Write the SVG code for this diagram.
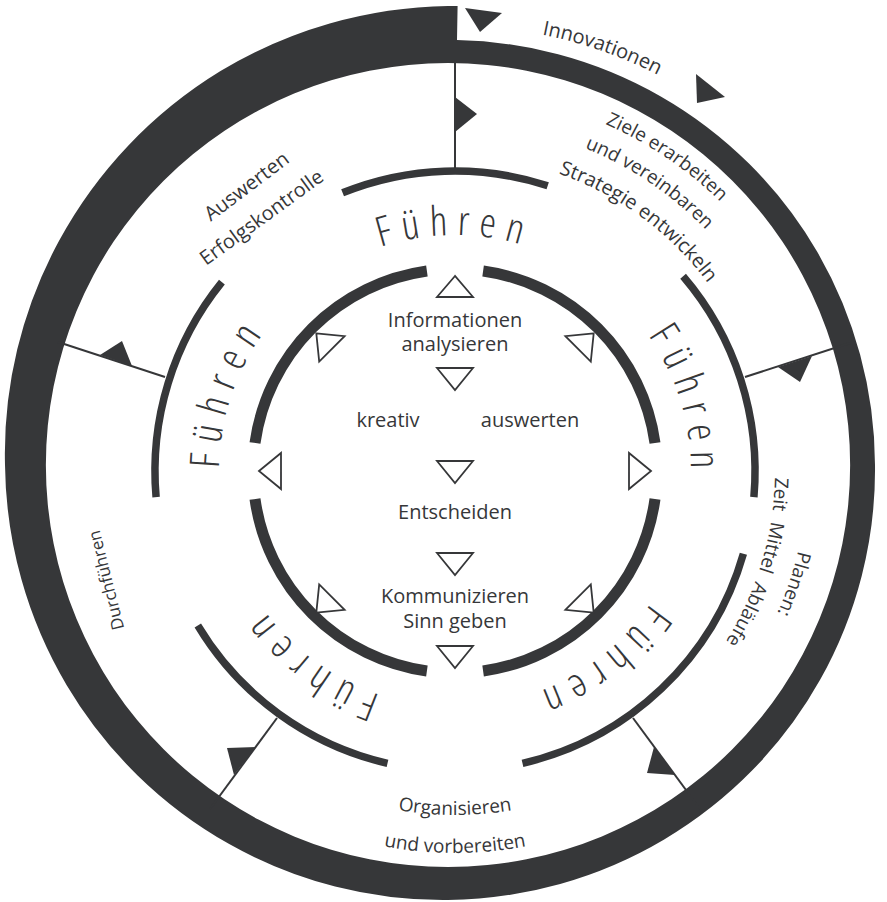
<svg xmlns="http://www.w3.org/2000/svg" width="887" height="902" viewBox="0 0 887 902">
<style>
.ink{fill:#363739}
.ln{stroke:#363739;stroke-width:2;fill:none}
.mid{stroke:#363739;stroke-width:7.5;fill:none}
.inr{stroke:#363739;stroke-width:11;fill:none}
.tri{stroke:#363739;stroke-width:1.8;fill:#fff;stroke-linejoin:miter}
text{font-family:"Open Sans","Liberation Sans",sans-serif;fill:#363739}
.c{font-size:20px;text-anchor:middle;font-stretch:92%}
.lab{font-size:19px;font-stretch:92%}
.fu{font-size:41px;letter-spacing:9.5px;font-stretch:75%;font-weight:300}
</style>
<defs>
<path id="pFu" d="M455,707 A236,236 0 1 1 455,235 A236,236 0 1 1 455,707"/>
<path id="pInno" d="M297.0,55.0 A445,445 0 0 1 837.3,243.2"/>
<path id="pZiele" d="M415.5,95.1 A378,378 0 0 1 818.4,366.8"/>
<path id="pUnd" d="M418.6,124.9 A348,348 0 0 1 789.5,375.1"/>
<path id="pStrat" d="M434.7,156.7 A315,315 0 0 1 761.0,396.4"/>
<path id="pZeit" d="M748.9,344.4 A320,320 0 0 1 630.7,738.5"/>
<path id="pPlan" d="M782.4,340.7 A352,352 0 0 1 638.3,771.6"/>
<path id="pOrg" d="M233.9,734.5 A344,344 0 0 0 676.1,734.5"/>
<path id="pVor" d="M209.5,763.6 A382,382 0 0 0 700.5,763.6"/>
</defs>

<g id="outer-ring">
<path class="ink" fill-rule="evenodd" d="M457,40.1 A425.2,425.2 0 0 1 558.1,54.2 A425.5,425.5 0 0 1 660.8,96.4 A425.8,425.8 0 0 1 749.2,163.8 A426.2,426.2 0 0 1 817.2,251.8 A426.5,426.5 0 0 1 860.1,354.6 A426.8,426.8 0 0 1 875,465 A427.7,427.7 0 0 1 861.7,575.9 A429,429 0 0 1 820.1,679.8 A430.3,430.3 0 0 1 752.8,769.8 A431.7,431.7 0 0 1 664.2,839.4 A433,433 0 0 1 560.2,883.9 A434.3,434.3 0 0 1 448,900 A435.7,435.7 0 0 1 335.1,886.5 A437,437 0 0 1 229.2,844.0 A438.3,438.3 0 0 1 137.6,775.4 A439.7,439.7 0 0 1 66.7,685.2 A441,441 0 0 1 21.4,579.3 A442.3,442.3 0 0 1 5,465 A444.5,444.5 0 0 1 17.2,349.6 A447.5,447.5 0 0 1 59.2,240.5 A450.5,450.5 0 0 1 128.4,145.4 A453.5,453.5 0 0 1 220.5,71.0 A456,456 0 0 1 329.7,23.5 A458,458 0 0 1 448,6.0 A459,459 0 0 1 457.6,6.1 Z M448,63 A402,402 0 1 0 448,867 A402,402 0 1 0 448,63 Z"/>
<polygon class="ink" points="465,8 502,13 480,32"/>
<polygon class="ink" points="696,74 725,97 697,103"/>
</g>

<g id="connectors">
<line class="ln" x1="455" y1="60" x2="455" y2="169"/>
<line class="ln" x1="745" y1="377" x2="850" y2="343"/>
<line class="ln" x1="58" y1="342" x2="165" y2="377"/>
<line class="ln" x1="277" y1="718" x2="210" y2="809"/>
<line class="ln" x1="633" y1="718" x2="700" y2="809"/>
<polygon class="ink" points="455,97 455,132 477,114"/>
<polygon class="ink" points="778,367 812,356 800,382"/>
<polygon class="ink" points="100,355 132,366 122,341"/>
<polygon class="ink" points="227,748 256,747 234,775"/>
<polygon class="ink" points="654,747 675,775 647,773"/>
</g>

<g id="middle-ring">
<path class="mid" d="M342.6,192.8 A300,300 0 0 1 547.7,185.7"/>
<path class="mid" d="M683.1,276.2 A300,300 0 0 1 753.9,497.2"/>
<path class="mid" d="M743.4,553.7 A300,300 0 0 1 522.5,763.3"/>
<path class="mid" d="M387.5,763.3 A300,300 0 0 1 197.8,625.5"/>
<path class="mid" d="M156.1,497.2 A300,300 0 0 1 221.9,282.2"/>
</g>

<g id="fuehren-labels">
<text class="fu"><textPath href="#pFu" startOffset="741" text-anchor="middle">Führen</textPath></text>
<text class="fu"><textPath href="#pFu" startOffset="1043" text-anchor="middle">Führen</textPath></text>
<text class="fu"><textPath href="#pFu" startOffset="1328" text-anchor="middle">Führen</textPath></text>
<text class="fu"><textPath href="#pFu" startOffset="152" text-anchor="middle">Führen</textPath></text>
<text class="fu"><textPath href="#pFu" startOffset="449" text-anchor="middle">Führen</textPath></text>
</g>

<g id="inner-ring">
<path class="inr" d="M483.1,271 A202,202 0 0 1 655,442.9"/>
<path class="inr" d="M655,499.1 A202,202 0 0 1 483.1,671"/>
<path class="inr" d="M426.9,671 A202,202 0 0 1 255,499.1"/>
<path class="inr" d="M255,442.9 A202,202 0 0 1 426.9,271"/>
<polygon class="tri" points="455,276 437,297 473,297"/>
<polygon class="tri" points="437,368 473,368 455,390"/>
<polygon class="tri" points="437,461 473,461 455,483"/>
<polygon class="tri" points="437,553 473,553 455,575"/>
<polygon class="tri" points="437,646 473,646 455,668"/>
<polygon class="tri" points="259,471 281,453 281,489"/>
<polygon class="tri" points="651,471 629,453 629,489"/>
<polygon class="tri" points="316.3,333.3 344.6,336.2 319.2,361.6"/>
<polygon class="tri" points="593.7,333.3 565.4,336.2 590.8,361.6"/>
<polygon class="tri" points="316.3,612.7 344.6,609.8 319.2,584.4"/>
<polygon class="tri" points="593.7,612.7 565.4,609.8 590.8,584.4"/>
</g>

<g id="center-texts">
<text class="c" x="455" y="327">Informationen</text>
<text class="c" x="455" y="351">analysieren</text>
<text class="c" x="388" y="427">kreativ</text>
<text class="c" x="530" y="427">auswerten</text>
<text class="c" x="455" y="519">Entscheiden</text>
<text class="c" x="455" y="603">Kommunizieren</text>
<text class="c" x="455" y="628">Sinn geben</text>
</g>

<g id="outer-labels">
<text class="lab" style="font-size:20px"><textPath href="#pInno" startOffset="50%" text-anchor="middle">Innovationen</textPath></text>
<text class="lab"><textPath href="#pZiele" startOffset="50%" text-anchor="middle">Ziele erarbeiten</textPath></text>
<text class="lab"><textPath href="#pUnd" startOffset="50%" text-anchor="middle">und vereinbaren</textPath></text>
<text class="lab" style="font-size:20px"><textPath href="#pStrat" startOffset="50%" text-anchor="middle">Strategie entwickeln</textPath></text>
<text class="lab"><textPath href="#pPlan" startOffset="50%" text-anchor="middle">Planen:</textPath></text>
<text class="lab" style="word-spacing:6px"><textPath href="#pZeit" startOffset="50%" text-anchor="middle">Zeit Mittel Abläufe</textPath></text>
<text class="lab"><textPath href="#pOrg" startOffset="50%" text-anchor="middle">Organisieren</textPath></text>
<text class="lab"><textPath href="#pVor" startOffset="50%" text-anchor="middle">und vorbereiten</textPath></text>
<g transform="translate(247,187) rotate(-37)"><text class="lab" x="0" y="6" text-anchor="middle" style="font-size:20px">Auswerten</text></g>
<g transform="translate(262,218) rotate(-36)"><text class="lab" x="0" y="6" text-anchor="middle" style="font-size:20px">Erfolgskontrolle</text></g>
<g transform="translate(107,580) rotate(-104)"><text class="lab" x="0" y="5" text-anchor="middle" style="font-size:17px">Durchführen</text></g>
</g>
</svg>
